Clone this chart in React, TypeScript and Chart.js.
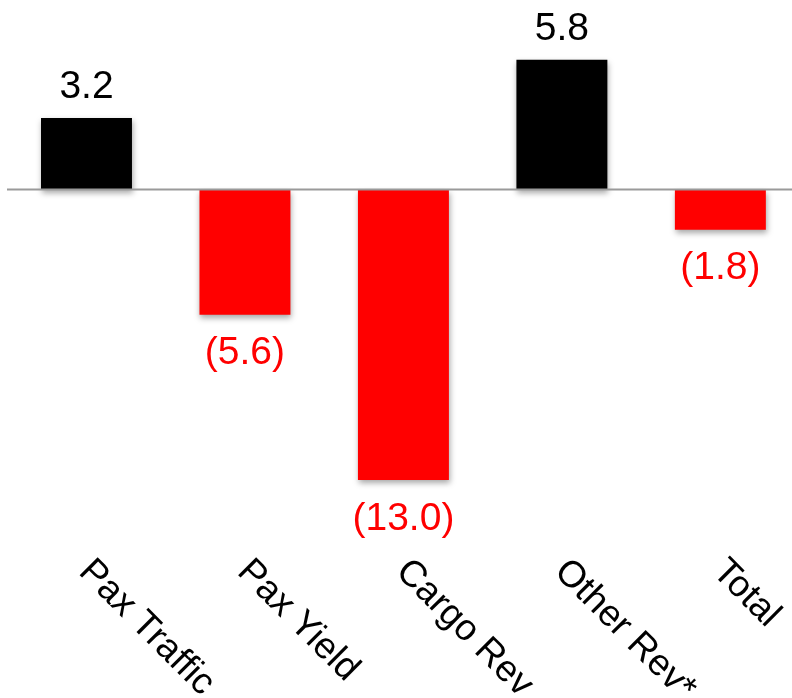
import React, { useEffect, useRef } from "react";
import { Chart, registerables } from "chart.js";

Chart.register(...registerables);

const categories = ["Pax Traffic", "Pax Yield", "Cargo Rev", "Other Rev*", "Total"];
const values = [3.2, -5.6, -13.0, 5.8, -1.8];
const yMin = -14;
const yMax = 8;

const FONT = "37px 'Liberation Sans', Arial, sans-serif";
const VALUE_FONT = "39px 'Liberation Sans', Arial, sans-serif";

const fmt = (v: number) => (v < 0 ? `(${Math.abs(v).toFixed(1)})` : v.toFixed(1));

const shadowPlugin = {
  id: "barShadow",
  beforeDatasetsDraw(chart: any) {
    const ctx = chart.ctx;
    ctx.save();
    ctx.shadowColor = "rgba(0,0,0,0.35)";
    ctx.shadowBlur = 6;
    ctx.shadowOffsetX = 1;
    ctx.shadowOffsetY = 3;
  },
  afterDatasetsDraw(chart: any) {
    chart.ctx.restore();
  },
};

const decorPlugin = {
  id: "decor",
  afterDatasetsDraw(chart: any) {
    const ctx = chart.ctx;
    const y = chart.scales.y.getPixelForValue(0);
    ctx.save();
    ctx.strokeStyle = "#9a9a9a";
    ctx.lineWidth = 1.8;
    ctx.beginPath();
    ctx.moveTo(7, y);
    ctx.lineTo(chart.width, y);
    ctx.stroke();

    const meta = chart.getDatasetMeta(0);
    ctx.font = VALUE_FONT;
    ctx.textAlign = "center";
    ctx.textBaseline = "alphabetic";
    meta.data.forEach((bar: any, i: number) => {
      const v = values[i];
      if (v >= 0) {
        ctx.fillStyle = "#000000";
        ctx.fillText(fmt(v), bar.x, bar.y - 20);
      } else {
        ctx.fillStyle = "#ff0000";
        ctx.fillText(fmt(v), bar.x, bar.y + 49.5);
      }
    });

    ctx.font = FONT;
    ctx.fillStyle = "#000000";
    ctx.textAlign = "left";
    categories.forEach((c, i) => {
      const cx = chart.scales.x.getPixelForValue(i);
      ctx.save();
      ctx.translate(cx - 9, 573);
      ctx.rotate(Math.PI / 4);
      ctx.fillText(c, 0, 0);
      ctx.restore();
    });
    ctx.restore();
  },
};

export default function App() {
  const ref = useRef<HTMLCanvasElement>(null);
  useEffect(() => {
    if (!ref.current) return;
    const chart = new Chart(ref.current, {
      type: "bar",
      data: {
        labels: categories,
        datasets: [
          {
            data: values,
            backgroundColor: values.map((v) => (v >= 0 ? "#000000" : "#ff0000")),
            borderWidth: 0,
            barPercentage: 0.574,
            categoryPercentage: 1,
          },
        ],
      },
      options: {
        responsive: false,
        animation: false,
        layout: { padding: { left: 7.25, right: 0.4, top: 10.7, bottom: 195.6 } },
        plugins: { legend: { display: false }, tooltip: { enabled: false } },
        scales: {
          x: { display: false, offset: true },
          y: { display: false, min: yMin, max: yMax },
        },
      },
      plugins: [shadowPlugin, decorPlugin],
    });
    return () => chart.destroy();
  }, []);
  return (
    <div style={{ position: "fixed", left: 0, top: 0, width: 792, height: 698, overflow: "hidden", background: "#fff" }}>
      <canvas ref={ref} width={800} height={698} style={{ display: "block" }} />
    </div>
  );
}
